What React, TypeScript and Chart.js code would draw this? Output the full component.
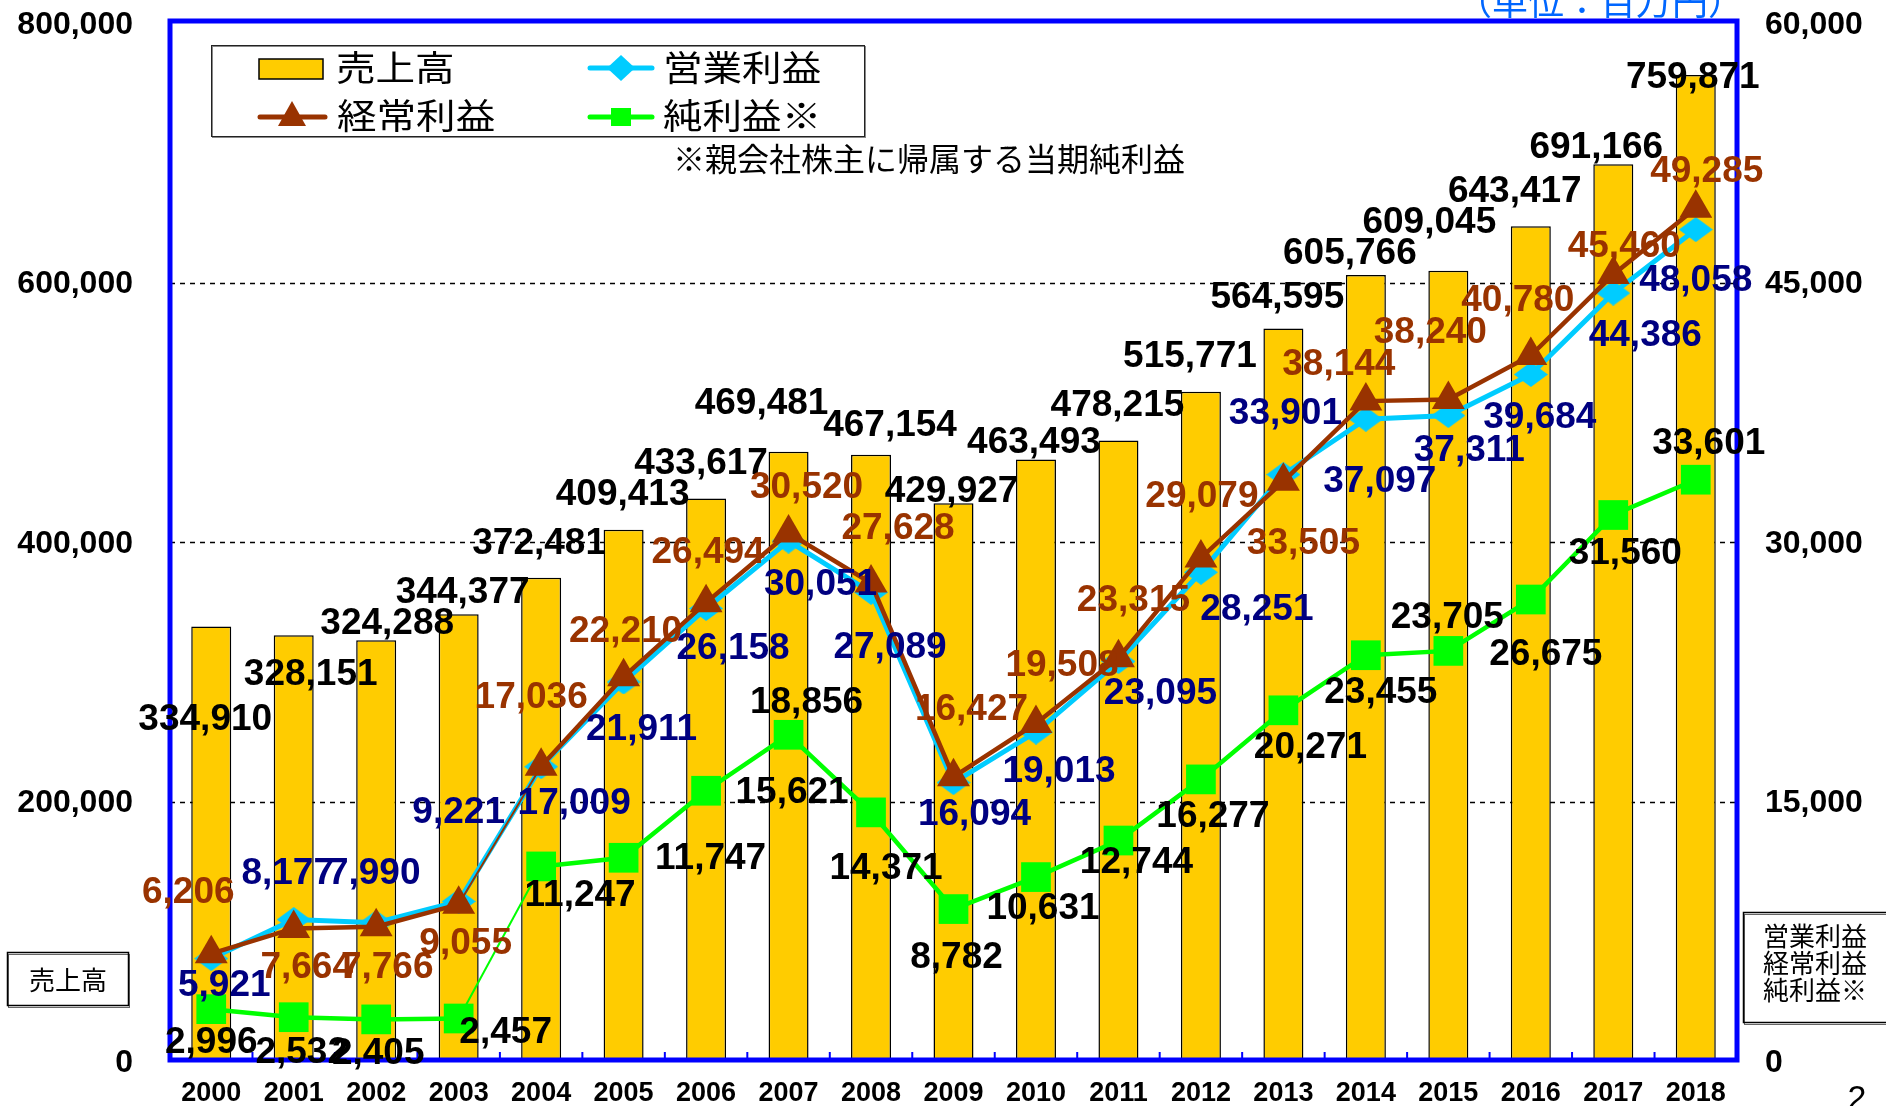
import React, { useEffect, useRef } from 'react';
import { Chart, registerables } from 'chart.js';
Chart.register(...registerables);

// ---------- data ----------
const years = ['2000','2001','2002','2003','2004','2005','2006','2007','2008','2009','2010','2011','2012','2013','2014','2015','2016','2017','2018'];
const sales = [334910, 328151, 324288, 344377, 372481, 409413, 433617, 469481, 467154, 429927, 463493, 478215, 515771, 564595, 605766, 609045, 643417, 691166, 759871];
const operatingProfit = [5921, 8177, 7990, 9221, 17009, 21911, 26158, 30051, 27089, 16094, 19013, 23095, 28251, 33901, 37097, 37311, 39684, 44386, 48058];
const ordinaryProfit = [6206, 7664, 7766, 9055, 17036, 22210, 26494, 30520, 27628, 16427, 19508, 23315, 29079, 33505, 38144, 38240, 40780, 45460, 49285];
const netProfit = [2996, 2532, 2405, 2457, 11247, 11747, 15621, 18856, 14371, 8782, 10631, 12744, 16277, 20271, 23455, 23705, 26675, 31560, 33601];
const leftTicks = [0, 200000, 400000, 600000, 800000];
const rightTicks = [0, 15000, 30000, 45000, 60000];

// ---------- label placement (pixel offsets from each mark) ----------
const salesLabelOffsets = [[-6,93],[17,40],[11,-16],[4,-21],[-2,-34],[-1,-35],[-5,-35],[-27,-48],[19,-29],[-2,-11],[-2,-17],[-1,-35],[-11,-35],[-6,-31],[-16,-21],[-19,-48],[-16,-34],[-17,-16],[-3,3]];
const opLabelOffsets = [[13,27],[-6,-46],[-2,-49],[0,-89],[33,37],[18,48],[27,40],[32,44],[19,55],[21,32],[23,40],[42,32],[56,38],[2,-61],[14,63],[21,35],[9,43],[32,43],[0,51]];
const ordLabelOffsets = [[-23,-61],[13,39],[11,41],[7,39],[-10,-68],[2,-45],[2,-50],[18,-45],[27,-54],[18,-67],[26,-58],[15,-57],[1,-61],[20,62],[-27,-36],[-18,-67],[-13,-55],[11,-28],[11,-37]];
const netLabelOffsets = [[0,34],[8,36],[2,34],[47,14],[39,29],[87,1],[86,2],[18,-32],[15,56],[3,49],[7,32],[18,22],[12,37],[27,37],[15,38],[-1,-33],[15,55],[12,39],[13,-36]];

const C_BAR = '#FFCC00';
const C_OP = '#00CCFF';
const C_ORD = '#993300';
const C_NET = '#00FF00';
const C_BLUE = '#0000FF';
const NUM_FONT = "'Liberation Sans', Arial, sans-serif";
const JP_FONT = "'Noto Sans CJK JP', 'Noto Sans', sans-serif";

const fmt = (v: number) => v.toLocaleString('en-US');

function makeDiamond(w: number, h: number, color: string) {
  const c = document.createElement('canvas');
  c.width = w; c.height = h;
  const g = c.getContext('2d')!;
  g.fillStyle = color;
  g.beginPath();
  g.moveTo(w / 2, 0); g.lineTo(w, h / 2); g.lineTo(w / 2, h); g.lineTo(0, h / 2);
  g.closePath(); g.fill();
  return c;
}

function stretchedText(ctx: CanvasRenderingContext2D, text: string, x: number, y: number, sx: number) {
  ctx.save();
  ctx.translate(x, y);
  ctx.scale(sx, 1);
  ctx.fillText(text, 0, 0);
  ctx.restore();
}

const overlayPlugin = {
  id: 'overlay',
  beforeDatasetsDraw(chart: any) {
    const { ctx, chartArea: ca, scales } = chart;
    ctx.save();
    ctx.strokeStyle = '#000';
    ctx.lineWidth = 1.5;
    ctx.setLineDash([5, 5]);
    leftTicks.forEach((t) => {
      if (t === leftTicks[0] || t === leftTicks[leftTicks.length - 1]) return;
      const y = Math.round(scales.y.getPixelForValue(t)) + 0.5;
      ctx.beginPath();
      ctx.moveTo(ca.left, y);
      ctx.lineTo(ca.right, y);
      ctx.stroke();
    });
    ctx.restore();
  },
  afterDatasetsDraw(chart: any) {
    const { ctx, chartArea: ca, scales } = chart;
    ctx.save();
    // plot border
    ctx.strokeStyle = C_BLUE;
    ctx.lineWidth = 5;
    ctx.strokeRect(ca.left, ca.top - 2, ca.right - ca.left, ca.bottom - ca.top + 1);
    // inside ticks on category axis
    ctx.lineWidth = 2;
    for (let i = 0; i < years.length - 1; i++) {
      const bx = (scales.x.getPixelForValue(i) + scales.x.getPixelForValue(i + 1)) / 2;
      ctx.beginPath();
      ctx.moveTo(bx, ca.bottom - 2);
      ctx.lineTo(bx, ca.bottom - 9);
      ctx.stroke();
    }
    // axis tick labels
    ctx.fillStyle = '#000';
    ctx.font = `bold 32px ${NUM_FONT}`;
    ctx.textBaseline = 'middle';
    ctx.textAlign = 'right';
    leftTicks.forEach((t) => ctx.fillText(fmt(t), 133, scales.y.getPixelForValue(t) + 2));
    ctx.textAlign = 'left';
    rightTicks.forEach((t) => ctx.fillText(fmt(t), 1765, scales.y1.getPixelForValue(t) + 2));
    ctx.textAlign = 'center';
    ctx.font = `bold 27px ${NUM_FONT}`;
    years.forEach((yr, i) => ctx.fillText(yr, scales.x.getPixelForValue(i), 1094));

    // legend box
    ctx.fillStyle = '#fff';
    ctx.fillRect(211, 45, 654, 92);
    ctx.strokeStyle = '#888';
    ctx.lineWidth = 1;
    ctx.strokeRect(212.5, 46.5, 653, 91);
    ctx.strokeStyle = '#222';
    ctx.strokeRect(211.5, 45.5, 653, 91);
    // sales swatch
    ctx.fillStyle = C_BAR;
    ctx.fillRect(259, 59, 64, 20);
    ctx.strokeStyle = '#000';
    ctx.lineWidth = 1.5;
    ctx.strokeRect(259, 59, 64, 20);
    // operating
    ctx.strokeStyle = C_OP; ctx.lineWidth = 5; ctx.lineCap = 'round';
    ctx.beginPath(); ctx.moveTo(590, 68); ctx.lineTo(652, 68); ctx.stroke();
    ctx.fillStyle = C_OP;
    ctx.beginPath(); ctx.moveTo(621, 55); ctx.lineTo(635, 68); ctx.lineTo(621, 81); ctx.lineTo(607, 68); ctx.closePath(); ctx.fill();
    // ordinary
    ctx.strokeStyle = C_ORD;
    ctx.beginPath(); ctx.moveTo(260, 117); ctx.lineTo(325, 117); ctx.stroke();
    ctx.fillStyle = C_ORD;
    ctx.beginPath(); ctx.moveTo(292, 101); ctx.lineTo(306, 126); ctx.lineTo(278, 126); ctx.closePath(); ctx.fill();
    // net
    ctx.strokeStyle = C_NET;
    ctx.beginPath(); ctx.moveTo(590, 117); ctx.lineTo(652, 117); ctx.stroke();
    ctx.fillStyle = C_NET;
    ctx.fillRect(611, 108, 20, 18);
    // legend texts
    ctx.fillStyle = '#000';
    ctx.textAlign = 'left';
    ctx.font = `35px ${JP_FONT}`;
    stretchedText(ctx, '売上高', 336, 68, 1.13);
    stretchedText(ctx, '営業利益', 663, 68, 1.13);
    stretchedText(ctx, '経常利益', 337, 116, 1.13);
    stretchedText(ctx, '純利益※', 663, 116, 1.13);
    ctx.font = `32px ${JP_FONT}`;
    ctx.fillText('※親会社株主に帰属する当期純利益', 673, 159);

    // unit note
    ctx.fillStyle = '#0066FF';
    ctx.textAlign = 'center';
    ctx.font = `36px ${JP_FONT}`;
    ctx.fillText('（単位：百万円）', 1600, 1);

    // axis title boxes
    ctx.fillStyle = '#fff';
    ctx.fillRect(7, 952, 122, 54);
    ctx.strokeStyle = '#666';
    ctx.lineWidth = 1;
    ctx.strokeRect(8.5, 954.5, 121, 53);
    ctx.strokeStyle = '#000';
    ctx.lineWidth = 1.5;
    ctx.strokeRect(7.5, 952.5, 121, 53);
    ctx.fillStyle = '#000';
    ctx.font = `26px ${JP_FONT}`;
    ctx.fillText('売上高', 68, 980);

    ctx.fillStyle = '#fff';
    ctx.fillRect(1743, 912, 150, 111);
    ctx.strokeStyle = '#666';
    ctx.lineWidth = 1;
    ctx.strokeRect(1744.5, 914.5, 150, 110);
    ctx.strokeStyle = '#000';
    ctx.lineWidth = 1.5;
    ctx.strokeRect(1743.5, 912.5, 150, 110);
    ctx.fillStyle = '#000';
    ctx.textAlign = 'left';
    ctx.font = `26px ${JP_FONT}`;
    ctx.fillText('営業利益', 1763, 936);
    ctx.fillText('経常利益', 1763, 963);
    ctx.fillText('純利益※', 1763, 990);

    // page number
    ctx.textBaseline = 'alphabetic';
    ctx.textAlign = 'center';
    ctx.font = `34px ${NUM_FONT}`;
    ctx.fillText('2', 1857, 1109);
    ctx.restore();
  },
  afterDraw(chart: any) {
    const { ctx } = chart;
    ctx.save();
    ctx.font = `bold 37px ${NUM_FONT}`;
    ctx.textAlign = 'center';
    ctx.textBaseline = 'middle';
    const draw = (dsIndex: number, values: number[], offs: number[][], color: string) => {
      const meta = chart.getDatasetMeta(dsIndex);
      ctx.fillStyle = color;
      meta.data.forEach((el: any, i: number) => {
        ctx.fillText(fmt(values[i]), el.x + offs[i][0], el.y + offs[i][1]);
      });
    };
    draw(3, sales, salesLabelOffsets, '#000');
    draw(1, ordinaryProfit, ordLabelOffsets, C_ORD);
    draw(0, operatingProfit, opLabelOffsets, '#000080');
    draw(2, netProfit, netLabelOffsets, '#000');
    ctx.restore();
  },
};

export default function App() {
  const ref = useRef<HTMLCanvasElement>(null);
  useEffect(() => {
    const canvas = ref.current!;
    const diamond = makeDiamond(34, 25, C_OP);
    const thinAt3 = (ctx: any) => (ctx.p0DataIndex === 3 ? 2 : undefined);
    const chart = new Chart(canvas, {
      type: 'bar',
      data: {
        labels: years,
        datasets: [
          {
            type: 'line', label: '営業利益', data: operatingProfit, yAxisID: 'y1', order: 2,
            borderColor: C_OP, backgroundColor: C_OP, borderWidth: 5,
            pointStyle: diamond as any, pointRadius: 15, tension: 0,
          },
          {
            type: 'line', label: '経常利益', data: ordinaryProfit, yAxisID: 'y1', order: 1,
            borderColor: C_ORD, backgroundColor: C_ORD, borderWidth: 4.5,
            pointStyle: 'triangle', pointRadius: 19, pointBorderWidth: 0, tension: 0,
            segment: { borderWidth: thinAt3 },
          },
          {
            type: 'line', label: '純利益※', data: netProfit, yAxisID: 'y1', order: 3,
            borderColor: C_NET, backgroundColor: C_NET, borderWidth: 4.5,
            pointStyle: 'rect', pointRadius: 21, pointBorderWidth: 0, tension: 0,
            segment: { borderWidth: thinAt3 },
          },
          {
            type: 'bar', label: '売上高', data: sales, yAxisID: 'y', order: 4,
            backgroundColor: C_BAR, borderColor: '#000', borderWidth: 1.5,
            barPercentage: 0.485, categoryPercentage: 1,
          },
        ],
      } as any,
      options: {
        responsive: false,
        animation: false,
        layout: { padding: { left: 170, right: 149, top: 23, bottom: 45 } },
        plugins: { legend: { display: false }, tooltip: { enabled: false } },
        scales: {
          x: { display: false, offset: true },
          y: { display: false, min: leftTicks[0], max: leftTicks[leftTicks.length - 1] },
          y1: { display: false, position: 'right', min: rightTicks[0], max: rightTicks[rightTicks.length - 1] },
        },
      } as any,
      plugins: [overlayPlugin],
    });
    return () => chart.destroy();
  }, []);
  return (
    <div style={{ position: 'fixed', left: 0, top: 0, width: 1886, height: 1106, background: '#fff' }}>
      <canvas ref={ref} width={1886} height={1106} style={{ display: 'block', width: 1886, height: 1106 }} />
    </div>
  );
}
